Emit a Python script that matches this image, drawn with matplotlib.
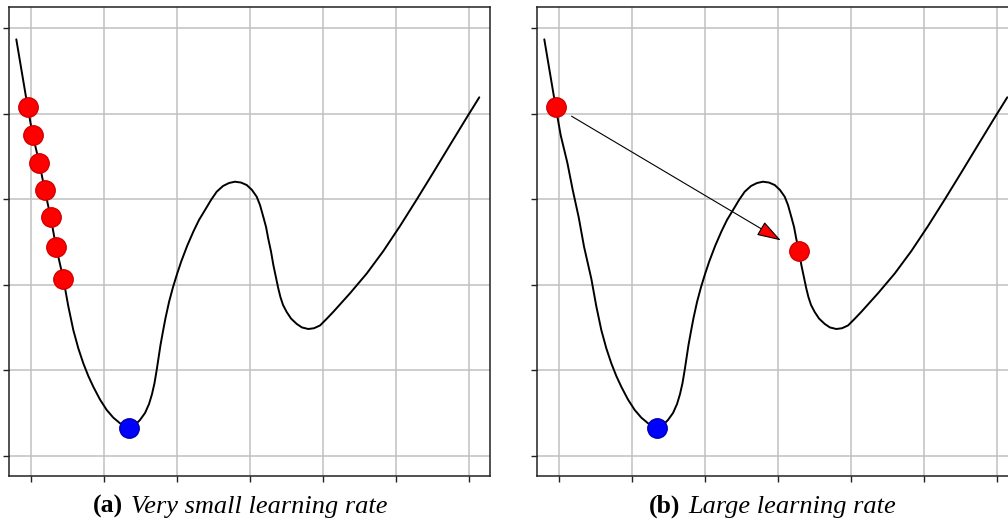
import matplotlib
matplotlib.use("Agg")
import matplotlib.pyplot as plt
from matplotlib.patches import FancyArrowPatch

# loss curve, sampled along x
curve_x = [-0.206, -0.049, 0.019, 0.110, 0.184, 0.266, 0.339, 0.439, 0.508,
           0.576, 0.645, 0.713, 0.782, 0.850, 0.942, 1.034, 1.125, 1.217,
           1.276, 1.336, 1.409, 1.491, 1.560, 1.615, 1.656, 1.690, 1.720,
           1.745, 1.772, 1.807, 1.841, 1.889, 1.944, 1.999, 2.054, 2.137,
           2.222, 2.300, 2.383, 2.465, 2.543, 2.630, 2.713, 2.794, 2.877,
           2.955, 3.027, 3.092, 3.137, 3.182, 3.220, 3.251, 3.288, 3.320,
           3.357, 3.388, 3.418, 3.453, 3.503, 3.562, 3.641, 3.713, 3.800,
           3.878, 3.960, 4.049, 4.143, 4.372, 4.601, 4.829, 5.058, 5.287,
           5.514, 5.743, 5.973, 6.145]
curve_y = [4.871, 4.076, 3.749, 3.428, 3.109, 2.789, 2.446, 2.071, 1.746,
           1.471, 1.256, 1.082, 0.933, 0.808, 0.658, 0.536, 0.446, 0.380,
           0.346, 0.325, 0.349, 0.419, 0.501, 0.606, 0.723, 0.851, 1.004,
           1.144, 1.296, 1.460, 1.612, 1.799, 1.974, 2.126, 2.267, 2.454,
           2.621, 2.758, 2.875, 2.992, 3.089, 3.156, 3.191, 3.206, 3.196,
           3.167, 3.109, 3.030, 2.933, 2.796, 2.676, 2.536, 2.389, 2.232,
           2.082, 1.957, 1.854, 1.764, 1.682, 1.606, 1.542, 1.501, 1.483,
           1.492, 1.524, 1.600, 1.684, 1.901, 2.132, 2.395, 2.688, 2.998,
           3.313, 3.635, 3.957, 4.193]

# gradient descent iterates
small_x = [-0.049, 0.019, 0.110, 0.184, 0.266, 0.339, 0.439]
small_y = [4.076, 3.749, 3.428, 3.109, 2.789, 2.446, 2.071]
large_x = [-0.045, 3.284]
large_y = [4.080, 2.395]

# global minimum
min_x = [1.336]
min_y = [0.325]

captions = [("(a)", "Very small learning rate"),
            ("(b)", "Large learning rate")]

plt.rcParams["font.family"] = ["Liberation Serif", "DejaVu Serif"]

fig = plt.figure(figsize=(10.08, 5.23), dpi=100)
ax_a = fig.add_axes([9.3 / 1008, 47.3 / 523, 480.7 / 1008, 468.4 / 523])
ax_b = fig.add_axes([537.3 / 1008, 47.3 / 523, 480.7 / 1008, 468.4 / 523])


def setup(ax):
    ax.set_xlim(-0.302, 6.292)
    ax.set_ylim(-0.233, 5.246)
    ax.set_xticks(range(0, 7))
    ax.set_yticks(range(0, 6))
    ax.set_xticklabels([])
    ax.set_yticklabels([])
    ax.grid(True, color="#c0c0c0", linewidth=1.1)
    ax.set_axisbelow(True)
    ax.tick_params(direction="out", length=4.3, width=1.0, color="#222222")
    for s in ax.spines.values():
        s.set_color("#222222")
        s.set_linewidth(1.1)
    ax.plot(curve_x, curve_y, color="black", linewidth=1.4, zorder=2,
            solid_joinstyle="round", solid_capstyle="round")
    ax.plot(min_x, min_y, "o", ms=14, mfc="#0000ff", mec="#0000b0",
            mew=1.0, zorder=4)


for ax in (ax_a, ax_b):
    setup(ax)

ax_a.plot(small_x, small_y, "o", ms=14, mfc="#ff0000", mec="#d40000",
          mew=1.0, zorder=4, linestyle="none")
ax_b.plot(large_x, large_y, "o", ms=14, mfc="#ff0000", mec="#d40000",
          mew=1.0, zorder=4, linestyle="none")

# jump of the large step
jump = FancyArrowPatch((large_x[0], large_y[0]), (large_x[1], large_y[1]),
                       arrowstyle="-|>,head_length=0.75,head_width=0.24",
                       mutation_scale=20, shrinkA=13, shrinkB=15,
                       linewidth=0.8, edgecolor="black", facecolor="red",
                       zorder=3)
ax_b.add_patch(jump)

# captions
split = [(0.2365, 0.2532), (0.2969, 0.3135)]
for ax, (tag, text), (xr, xl) in zip((ax_a, ax_b), captions, split):
    ax.text(xr, -0.0796, tag, transform=ax.transAxes, ha="right",
            va="baseline", fontsize=18.5, fontweight="bold")
    ax.text(xl, -0.0796, text, transform=ax.transAxes, ha="left",
            va="baseline", fontsize=19, fontstyle="italic")

fig.savefig("out.png", dpi=100)
